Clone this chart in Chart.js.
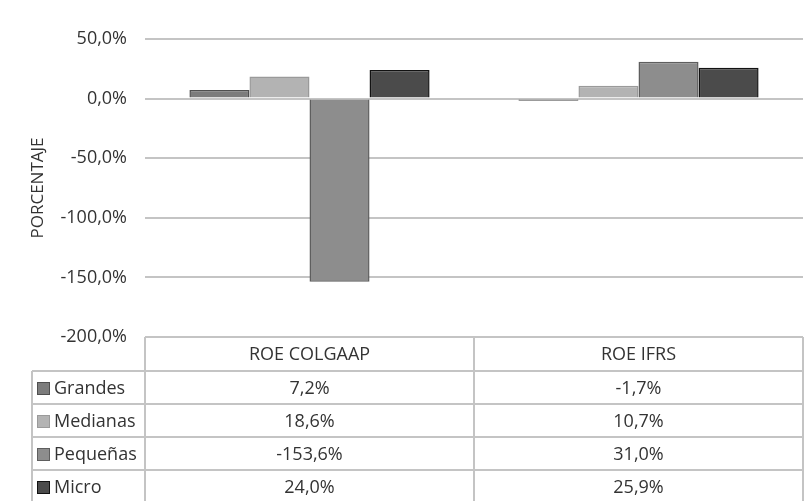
<!DOCTYPE html>
<html lang="es">
<head>
<meta charset="UTF-8" />
<title>ROE por tamaño de empresa</title>
<script src="https://cdn.jsdelivr.net/npm/chart.js@4.4.1/dist/chart.umd.min.js"></script>
<style>
  html, body { margin: 0; padding: 0; background: #fff; }
  #wrap { width: 809px; height: 501px; position: relative; }
</style>
</head>
<body>
<div id="wrap"><canvas id="chart" width="809" height="501"></canvas></div>
<script>
// Data.
const categories = ['ROE COLGAAP', 'ROE IFRS'];
const grandes = [7.2, -1.7];
const medianas = [18.6, 10.7];
const pequenas = [-153.6, 31.0];
const micro = [24.0, 25.9];
const seriesNames = ['Grandes', 'Medianas', 'Pequeñas', 'Micro'];
const yTicks = [50, 0, -50, -100, -150, -200];

const FILLS = ['#7c7c7c', '#b3b3b3', '#8d8d8d', '#4b4b4b'];
const BORDERS = ['#4f4f4f', '#9a9a9a', '#5e5e5e', '#121212'];
const FONT = '"Open Sans", Lato, sans-serif';
const TEXT = '#333333';
const LINE = '#c4c4c4';

function pct(v) {
  return v.toFixed(1).replace('.', ',') + '%';
}

const seriesData = [grandes, medianas, pequenas, micro];

// Draws the data table (legend keys + values) under the plot, using the x scale.
const dataTable = {
  id: 'dataTable',
  afterDraw(c) {
    const ctx = c.ctx;
    const area = c.chartArea;
    const x = c.scales.x;
    const top = area.bottom;
    const headH = 34;
    const rowH = 33;
    const legendLeft = 32;
    const cols = categories.map((_, i) => x.getPixelForValue(i));
    const half = (x.right - x.left) / categories.length / 2;

    ctx.save();
    ctx.strokeStyle = LINE;
    ctx.lineWidth = 2;
    ctx.beginPath();
    // header row
    ctx.moveTo(area.left, top); ctx.lineTo(area.right, top);
    ctx.moveTo(area.left, top); ctx.lineTo(area.left, c.height);
    ctx.moveTo(area.right, top); ctx.lineTo(area.right, c.height);
    cols.forEach((cx, i) => {
      if (i > 0) { ctx.moveTo(cx - half, top); ctx.lineTo(cx - half, c.height); }
    });
    // legend column + row lines
    ctx.moveTo(legendLeft, top + headH); ctx.lineTo(legendLeft, c.height);
    for (let r = 0; r < seriesNames.length; r++) {
      const y = top + headH + r * rowH;
      ctx.moveTo(legendLeft, y); ctx.lineTo(area.right, y);
    }
    ctx.stroke();

    ctx.font = '18px ' + FONT;
    ctx.fillStyle = TEXT;
    ctx.textAlign = 'center';
    ctx.textBaseline = 'middle';
    cols.forEach((cx, i) => ctx.fillText(categories[i], cx, top + headH / 2 + 1));

    seriesNames.forEach((name, r) => {
      const cy = top + headH + r * rowH + rowH / 2 + 1;
      // legend key
      ctx.fillStyle = FILLS[r];
      ctx.strokeStyle = BORDERS[r];
      ctx.lineWidth = 1;
      ctx.fillRect(37.5, cy - 6, 12, 12);
      ctx.strokeRect(37.5, cy - 6, 12, 12);
      ctx.fillStyle = TEXT;
      ctx.textAlign = 'left';
      ctx.fillText(name, 54, cy);
      ctx.textAlign = 'center';
      cols.forEach((cx, i) => ctx.fillText(pct(seriesData[r][i]), cx, cy));
    });
    ctx.restore();
  },
};

new Chart(document.getElementById('chart'), {
  type: 'bar',
  data: {
    labels: categories,
    datasets: seriesNames.map((name, i) => ({
      label: name,
      data: seriesData[i],
      backgroundColor: FILLS[i],
      borderColor: BORDERS[i],
      borderWidth: 1.5,
      categoryPercentage: 0.73,
      barPercentage: 1,
    })),
  },
  options: {
    responsive: false,
    animation: false,
    layout: { padding: { top: 39, right: 6, bottom: 164, left: 0 } },
    plugins: { legend: { display: false }, tooltip: { enabled: false } },
    scales: {
      x: {
        display: false,
      },
      y: {
        min: -200,
        max: 50,
        afterBuildTicks: (s) => { s.ticks = yTicks.map((v) => ({ value: v })); },
        afterFit: (s) => { s.width = 145; },
        border: { display: false },
        grid: {
          color: (ctx) => (ctx.tick && ctx.tick.value === -200 ? 'rgba(0,0,0,0)' : LINE),
          lineWidth: 2,
          drawTicks: false,
        },
        ticks: {
          padding: 18,
          color: TEXT,
          font: { family: FONT, size: 18 },
          callback: (v) => pct(v),
        },
        title: {
          display: true,
          text: 'PORCENTAJE',
          color: TEXT,
          font: { family: FONT, size: 17 },
          padding: { top: 28, bottom: 0 },
        },
      },
    },
  },
  plugins: [dataTable],
});
</script>
</body>
</html>
